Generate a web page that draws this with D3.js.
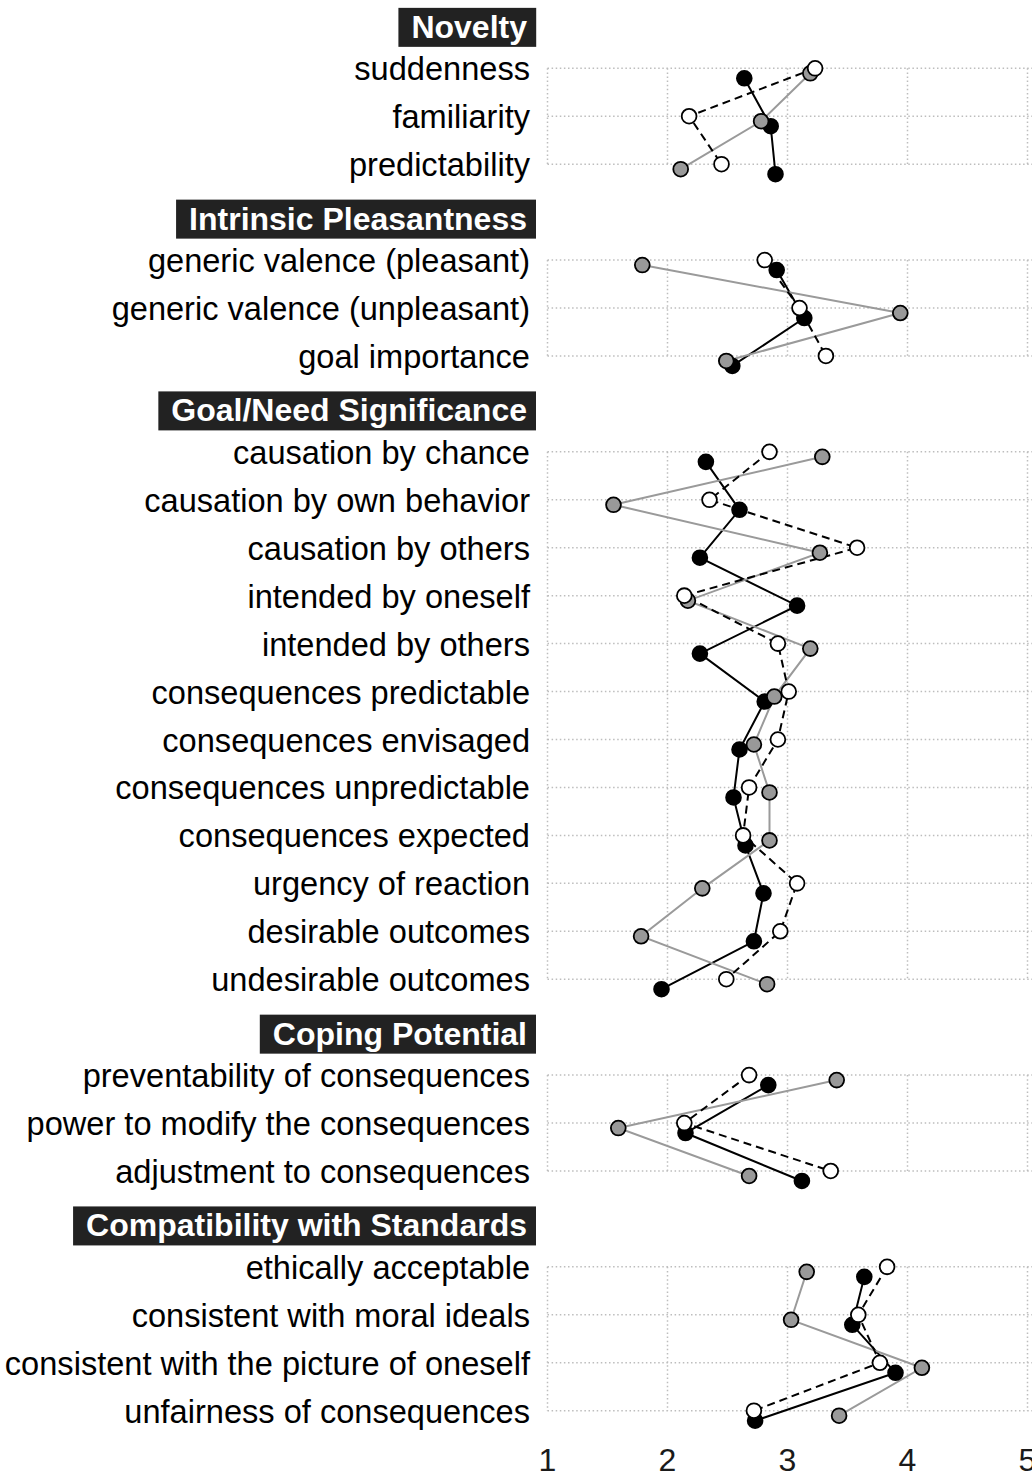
<!DOCTYPE html>
<html>
<head>
<meta charset="utf-8">
<script src="https://cdn.jsdelivr.net/npm/d3@7"></script>
<style>
  html, body { margin: 0; padding: 0; background: #fff; }
  svg { display: block; }
  text { font-family: "Liberation Sans", Arial, Helvetica, sans-serif; }
</style>
</head>
<body>
<svg id="chart" width="1032" height="1477"></svg>
<script>
// ---- data ----
const groups = ["Novelty", "Intrinsic Pleasantness", "Goal/Need Significance", "Coping Potential", "Compatibility with Standards"];
const groupItems = [
  ["suddenness", "familiarity", "predictability"],
  ["generic valence (pleasant)", "generic valence (unpleasant)", "goal importance"],
  ["causation by chance", "causation by own behavior", "causation by others", "intended by oneself",
   "intended by others", "consequences predictable", "consequences envisaged", "consequences unpredictable",
   "consequences expected", "urgency of reaction", "desirable outcomes", "undesirable outcomes"],
  ["preventability of consequences", "power to modify the consequences", "adjustment to consequences"],
  ["ethically acceptable", "consistent with moral ideals", "consistent with the picture of oneself", "unfairness of consequences"]
];
const blackValues = [
  2.64, 2.86, 2.90,
  2.91, 3.14, 2.54,
  2.32, 2.60, 2.27, 3.08, 2.27, 2.81, 2.60, 2.55, 2.65, 2.80, 2.72, 1.95,
  2.84, 2.15, 3.12,
  3.64, 3.54, 3.90, 2.73
];
const whiteValues = [
  3.23, 2.18, 2.45,
  2.81, 3.10, 3.32,
  2.85, 2.35, 3.58, 2.14, 2.92, 3.01, 2.92, 2.68, 2.63, 3.08, 2.94, 2.49,
  2.68, 2.14, 3.36,
  3.83, 3.59, 3.77, 2.72
];
const grayValues = [
  3.19, 2.78, 2.11,
  1.79, 3.94, 2.49,
  3.29, 1.55, 3.27, 2.17, 3.19, 2.89, 2.72, 2.85, 2.85, 2.29, 1.78, 2.83,
  3.41, 1.59, 2.68,
  3.16, 3.03, 4.12, 3.43
];
const xTicks = [1, 2, 3, 4, 5];

// ---- layout ----
const svg = d3.select("#chart");
const x = d3.scaleLinear().domain([1, 5]).range([547.5, 1027.5]);
const slots = [];
let itemIdx = 0;
groups.forEach((g, gi) => {
  slots.push({type: "header", label: g, group: gi});
  groupItems[gi].forEach(it => {
    slots.push({type: "item", label: it, group: gi, idx: itemIdx++});
  });
});
const y = d3.scaleLinear().domain([1, slots.length - 1]).range([68.3, 1410.7]);
slots.forEach((s, i) => s.y = y(i));
const items = slots.filter(s => s.type === "item");

const gridG = svg.append("g");
gridG.selectAll("line.h").data(items).join("line")
  .attr("x1", x(1)).attr("x2", 1040)
  .attr("y1", d => d.y).attr("y2", d => d.y)
  .attr("stroke", "#bdbdbd").attr("stroke-width", 1.5).attr("stroke-dasharray", "1.5,2.6");
groups.forEach((g, gi) => {
  const gItems = items.filter(d => d.group === gi);
  const y0 = gItems[0].y, y1 = gItems[gItems.length - 1].y;
  gridG.selectAll(null).data(xTicks).join("line")
    .attr("x1", d => x(d)).attr("x2", d => x(d))
    .attr("y1", y0).attr("y2", y1)
    .attr("stroke", "#bdbdbd").attr("stroke-width", 1.5).attr("stroke-dasharray", "1.5,2.6");
});

// item labels
svg.append("g").selectAll("text").data(items).join("text")
  .attr("x", 530).attr("y", d => d.y + 12)
  .attr("text-anchor", "end").attr("font-size", 32.6).attr("fill", "#000")
  .text(d => d.label);

// group headers
const headers = slots.filter(s => s.type === "header");
const hg = svg.append("g").selectAll("g").data(headers).join("g");
hg.append("text")
  .attr("x", 527).attr("y", d => d.y + 7 + 10.5)
  .attr("text-anchor", "end").attr("font-size", 32).attr("font-weight", "bold").attr("fill", "#fff")
  .text(d => d.label)
  .each(function(d) { d.bb = this.getBBox(); });
hg.insert("rect", "text")
  .attr("x", d => d.bb.x - 13).attr("width", d => d.bb.width + 22)
  .attr("y", d => d.y + 7 - 19.5).attr("height", 39)
  .attr("fill", "#222");

// x axis tick labels
svg.append("g").selectAll("text").data(xTicks).join("text")
  .attr("x", d => x(d)).attr("y", 1471)
  .attr("text-anchor", "middle").attr("font-size", 32).attr("fill", "#1a1a1a")
  .text(d => d);

// ---- series ----
const series = [
  {name: "black", values: blackValues, dy: 10, fill: "#000", line: "#000", dash: null, lw: 2},
  {name: "gray", values: grayValues, dy: 5, fill: "#999", line: "#9a9a9a", dash: null, lw: 2},
  {name: "white", values: whiteValues, dy: 0, fill: "#fff", line: "#000", dash: "8,5", lw: 2}
];
const lineGen = d3.line().x(d => d[0]).y(d => d[1]);
const lineG = svg.append("g");
const ptG = svg.append("g");
series.forEach(s => {
  groups.forEach((g, gi) => {
    const pts = items.filter(d => d.group === gi).map(d => [x(s.values[d.idx]), d.y + s.dy]);
    lineG.append("path").attr("d", lineGen(pts))
      .attr("fill", "none").attr("stroke", s.line).attr("stroke-width", s.lw)
      .attr("stroke-dasharray", s.dash);
  });
});
series.forEach(s => {
  ptG.append("g").selectAll("circle").data(items).join("circle")
    .attr("cx", d => x(s.values[d.idx])).attr("cy", d => d.y + s.dy)
    .attr("r", 7.4).attr("fill", s.fill).attr("stroke", "#000").attr("stroke-width", 1.8);
});
</script>
</body>
</html>
